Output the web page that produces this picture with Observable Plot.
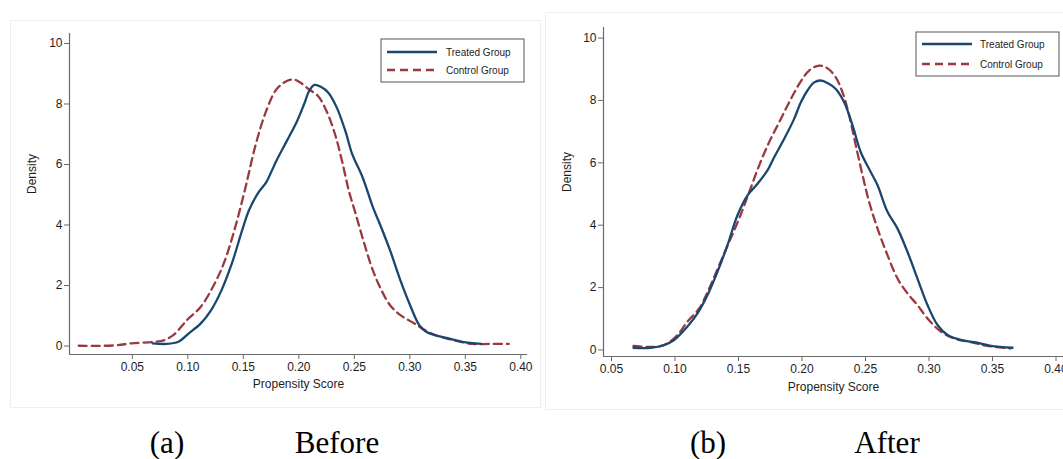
<!DOCTYPE html>
<html><head><meta charset="utf-8">
<script src="https://cdn.jsdelivr.net/npm/d3@7"></script>
<script src="https://cdn.jsdelivr.net/npm/@observablehq/plot@0.6"></script>
<style>
body{margin:0;background:#fff;width:1063px;height:459px;overflow:hidden;position:relative;font-family:"Liberation Sans",Arial,sans-serif;}
.panel{position:absolute;}
.bg{position:absolute;border:1px solid #efefef;box-sizing:border-box;}
.cap{position:absolute;font-family:"Liberation Serif","Times New Roman",serif;font-size:31px;color:#000;transform:translateX(-50%);line-height:1;white-space:nowrap}
</style></head><body>
<div class="bg" style="left:10px;top:20px;width:531px;height:388px"></div>
<div class="bg" style="left:545px;top:12px;width:530px;height:398px"></div>
<div id="pa" class="panel" style="left:0;top:0"></div>
<div id="pb" class="panel" style="left:545px;top:0"></div>
<div class="cap" style="left:167px;top:427px">(a)</div>
<div class="cap" style="left:337px;top:427px">Before</div>
<div class="cap" style="left:708px;top:427px">(b)</div>
<div class="cap" style="left:887px;top:427px">After</div>
<script>
// ---------- data ----------
const seriesNames = ["Treated Group", "Control Group"];
const xTicks = [0.05, 0.10, 0.15, 0.20, 0.25, 0.30, 0.35, 0.40];
const yTicks = [0, 2, 4, 6, 8, 10];
const axisTitleX = "Propensity Score";
const axisTitleY = "Density";

// Panel (a) Before
const treatedBeforeX = [0.0683,0.0807,0.0915,0.1009,0.1117,0.121,0.1303,0.1396,0.1489,0.155,0.1628,0.1706,0.175,0.1799,0.1892,0.1985,0.2047,0.2093,0.214,0.2202,0.2264,0.2342,0.2419,0.2481,0.2574,0.2667,0.2729,0.2822,0.2915,0.3008,0.3085,0.3147,0.3225,0.3349,0.3473,0.3643];
const treatedBeforeY = [0.09,0.07,0.14,0.42,0.75,1.19,1.84,2.72,3.82,4.48,5.03,5.41,5.74,6.13,6.78,7.44,7.99,8.43,8.63,8.56,8.38,7.88,7.11,6.34,5.58,4.59,4.04,3.16,2.17,1.30,0.69,0.47,0.36,0.25,0.14,0.07];
const controlBeforeX = [0.0017,0.034,0.0497,0.0698,0.0776,0.0869,0.0993,0.1117,0.1241,0.1334,0.1427,0.152,0.1613,0.1706,0.1799,0.1892,0.1954,0.2016,0.2093,0.2171,0.2249,0.2326,0.2388,0.245,0.2512,0.259,0.2667,0.2745,0.2822,0.2915,0.3039,0.3163,0.3287,0.3411,0.3566,0.3721,0.3891];
const controlBeforeY = [0.01,0.02,0.09,0.14,0.18,0.36,0.86,1.30,2.06,2.83,3.93,5.25,6.68,7.77,8.49,8.76,8.81,8.70,8.48,8.27,7.77,7.00,6.13,5.14,4.37,3.38,2.50,1.84,1.35,1.02,0.75,0.47,0.29,0.18,0.07,0.07,0.07];

// Panel (b) After
const treatedAfterX = [0.0673,0.081,0.0915,0.0993,0.1098,0.1177,0.1256,0.1335,0.1413,0.1492,0.1571,0.165,0.1728,0.1781,0.186,0.1938,0.1991,0.2043,0.2096,0.2148,0.2201,0.2266,0.2332,0.2398,0.2463,0.2542,0.2595,0.2673,0.2752,0.2831,0.2909,0.2988,0.3067,0.3146,0.3251,0.3356,0.3487,0.3658];
const treatedAfterY = [0.07,0.07,0.16,0.32,0.75,1.17,1.76,2.51,3.36,4.32,4.96,5.33,5.76,6.18,6.77,7.41,7.94,8.32,8.58,8.64,8.56,8.37,7.94,7.20,6.34,5.70,5.28,4.43,3.89,3.14,2.29,1.44,0.80,0.48,0.32,0.25,0.13,0.07];
const controlAfterX = [0.0673,0.0783,0.0875,0.0941,0.102,0.1098,0.119,0.1269,0.1348,0.1426,0.1505,0.1584,0.1663,0.1741,0.182,0.1899,0.1978,0.2056,0.2135,0.2201,0.2266,0.2319,0.2372,0.2424,0.2477,0.2529,0.2595,0.2673,0.2752,0.2831,0.2909,0.2988,0.3093,0.3198,0.3329,0.346,0.3644];
const controlAfterY = [0.13,0.10,0.11,0.21,0.48,0.91,1.33,1.97,2.72,3.46,4.21,5.06,5.92,6.66,7.30,7.94,8.53,8.96,9.12,9.03,8.74,8.26,7.51,6.55,5.60,4.74,3.89,3.04,2.29,1.81,1.44,1.01,0.59,0.37,0.25,0.13,0.05];

// ---------- styles ----------
const colors = {"Treated Group": "#1a476f", "Control Group": "#993a40"};
const dashes = {"Treated Group": null, "Control Group": "8,5"};
const axisColor = "#6a6a6a";
const textColor = "#1e1e1e";

function toRows(xs, ys, name) { return xs.map((x, i) => ({x, y: ys[i], group: name})); }

function makePanel(cfg) {
  const treated = toRows(cfg.tx, cfg.ty, seriesNames[0]);
  const control = toRows(cfg.cx, cfg.cy, seriesNames[1]);
  const plot = Plot.plot({
    width: cfg.width, height: 410,
    marginLeft: cfg.ml, marginRight: cfg.mr, marginTop: cfg.mt, marginBottom: cfg.mb,
    style: {fontFamily: '"Liberation Sans", Arial, sans-serif', fontSize: "12px", color: textColor, background: "transparent", overflow: "hidden"},
    x: {domain: cfg.xd, label: null},
    y: {domain: cfg.yd, label: null},
    marks: [
      Plot.ruleX([cfg.xd[0]], {stroke: axisColor, strokeWidth: 1.2}),
      Plot.ruleY([cfg.yd[0]], {stroke: axisColor, strokeWidth: 1.2}),
      Plot.axisX({ticks: xTicks, tickFormat: d3.format(".2f"), tickSize: 5, tickPadding: 3, stroke: axisColor, fill: textColor, label: null}),
      Plot.axisY({ticks: yTicks, tickSize: 5, tickPadding: 2, stroke: axisColor, fill: textColor, label: null}),
      Plot.line(control, {x: "x", y: "y", stroke: colors[seriesNames[1]], strokeWidth: 2.3, strokeDasharray: dashes[seriesNames[1]], curve: "catmull-rom"}),
      Plot.line(treated, {x: "x", y: "y", stroke: colors[seriesNames[0]], strokeWidth: 2.3, curve: "catmull-rom"}),
      Plot.text([axisTitleY], {text: d => d, frameAnchor: "left", rotate: -90, dx: -cfg.ylabOff, lineAnchor: "middle", fontSize: 12, fill: textColor}),
      Plot.text([axisTitleX], {text: d => d, frameAnchor: "bottom", dy: cfg.xlabOff, lineAnchor: "middle", fontSize: 12, fill: textColor})
    ]
  });
  // legend
  const svg = d3.select(plot);
  const L = cfg.legend;
  const g = svg.append("g").attr("text-anchor", "start");
  g.append("rect").attr("x", L.x0).attr("y", L.y0).attr("width", L.x1 - L.x0).attr("height", L.y1 - L.y0)
    .attr("fill", "#fff").attr("stroke", "#555").attr("stroke-width", 1);
  seriesNames.forEach((name, i) => {
    const yy = L.rows[i];
    g.append("line").attr("x1", L.lx0).attr("x2", L.lx1).attr("y1", yy).attr("y2", yy)
      .attr("stroke", colors[name]).attr("stroke-width", 2.3).attr("stroke-dasharray", dashes[name]);
    g.append("text").attr("x", L.tx).attr("y", yy).attr("dy", "0.35em").attr("font-size", 10)
      .attr("text-anchor", "start").attr("fill", textColor).text(name);
  });
  return plot;
}

document.getElementById("pa").append(makePanel({
  width: 540, ml: 69, mr: 13, mt: 33, mb: 56,
  xd: [-0.0066, 0.406], yd: [-0.28, 10.33],
  tx: treatedBeforeX, ty: treatedBeforeY, cx: controlBeforeX, cy: controlBeforeY,
  ylabOff: 37, xlabOff: 30,
  legend: {x0: 381, x1: 524, y0: 39, y1: 82, lx0: 387, lx1: 437, tx: 446, rows: [52, 70]}
}));

document.getElementById("pb").append(makePanel({
  width: 518, ml: 58, mr: 0, mt: 27, mb: 54,
  xd: [0.0437, 0.4059], yd: [-0.21, 10.34],
  tx: treatedAfterX, ty: treatedAfterY, cx: controlAfterX, cy: controlAfterY,
  ylabOff: 36, xlabOff: 31,
  legend: {x0: 371, x1: 514, y0: 32, y1: 76, lx0: 377, lx1: 427, tx: 435, rows: [44, 64]}
}));
</script>
</body></html>
